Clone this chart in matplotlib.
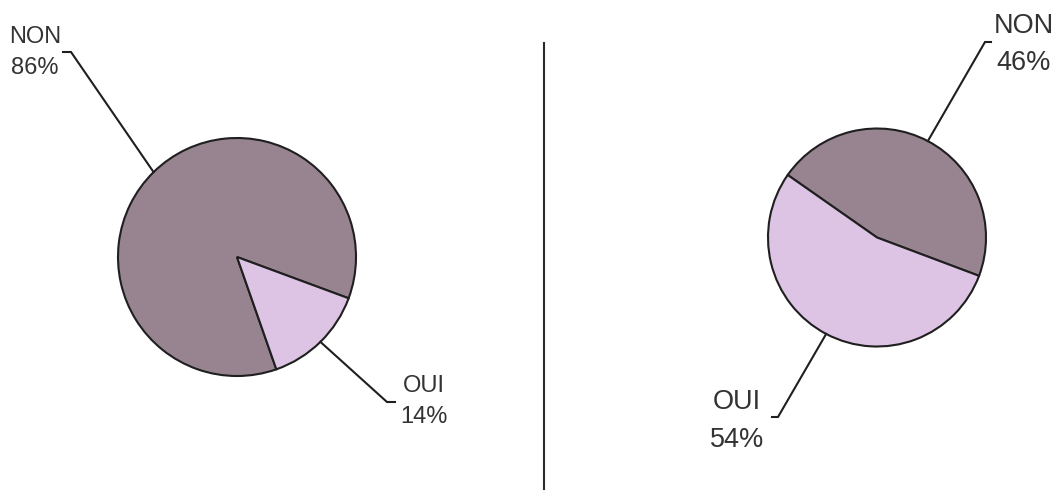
import numpy as np
import matplotlib.pyplot as plt

plt.rcParams['font.family'] = ['Liberation Sans', 'DejaVu Sans']

# data
labels = ["NON", "OUI"]
left_vals = [86, 14]
right_vals = [46, 54]
colors = ["#988491", "#ddc4e4"]

W, H = 1062, 490
fig = plt.figure(figsize=(W / 100, H / 100), dpi=100)
ax = fig.add_axes((0, 0, 1, 1))

edge = dict(linewidth=1.5, edgecolor="#1f1f1f")

# left pie
lw, _ = ax.pie(left_vals, colors=colors, startangle=-20.3, counterclock=True,
               center=(237, H - 257), radius=119, wedgeprops=edge)
# right pie
rw, _ = ax.pie(right_vals, colors=colors, startangle=-20.6, counterclock=True,
               center=(877, H - 237.5), radius=109, wedgeprops=edge)


def leader(w, elbow, tick_x, label, value, tx, ty, size, gap):
    a = np.deg2rad((w.theta1 + w.theta2) / 2)
    cx, cy = w.center
    x0 = cx + w.r * np.cos(a)
    y0 = cy + w.r * np.sin(a)
    ex, ey = elbow[0], H - elbow[1]
    ax.plot([x0, ex, tick_x], [y0, ey, ey], color="#1f1f1f", lw=1.5,
            solid_joinstyle="miter")
    ax.text(tx, H - ty, label, ha="center", va="baseline", fontsize=size,
            color="#333333")
    ax.text(tx, H - ty - gap, "%d%%" % value, ha="center", va="baseline",
            fontsize=size, color="#333333")


leader(lw[0], (71, 52), 63, labels[0], left_vals[0], 35, 43, 17, 31)
leader(lw[1], (387, 402), 395, labels[1], left_vals[1], 424, 392, 17, 31)
leader(rw[0], (985, 42), 991, labels[0], right_vals[0], 1024, 33, 19.5, 37)
leader(rw[1], (778, 417), 772, labels[1], right_vals[1], 737, 409, 19.5, 38)

# divider
ax.plot([544, 544], [H - 43, 0], color="#2a2a2a", lw=1.5)

ax.set_xlim(0, W)
ax.set_ylim(0, H)
ax.set_aspect("auto")
ax.axis("off")

fig.savefig("out.png", dpi=100, facecolor="white")
